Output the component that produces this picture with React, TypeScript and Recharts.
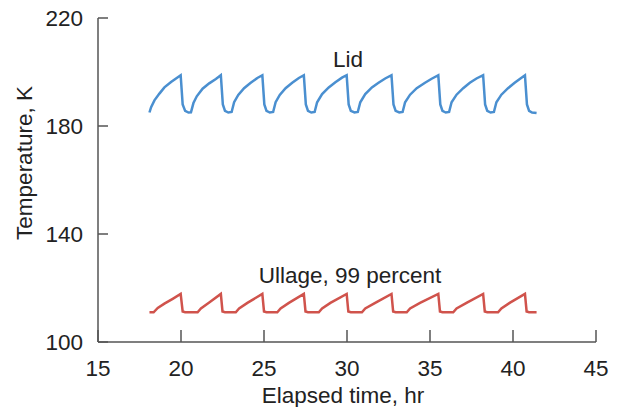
import { LineChart, Line, XAxis, YAxis } from 'recharts';

// Lid temperature (K) vs elapsed time (hr)
const lidTime = [
  18.1, 18.2, 18.4, 18.7, 19.0, 19.4, 19.7, 19.98, 20.1, 20.25, 20.45, 20.6,
  20.75, 20.95, 21.3, 21.7, 22.1, 22.4, 22.52, 22.65, 22.85, 23.05,
  23.2, 23.45, 23.8, 24.2, 24.6, 24.9, 25.02, 25.15, 25.35, 25.55,
  25.7, 25.95, 26.3, 26.7, 27.1, 27.4, 27.52, 27.65, 27.85, 28.05,
  28.2, 28.5, 28.9, 29.3, 29.7, 29.98, 30.1, 30.23, 30.45, 30.65,
  30.8, 31.1, 31.5, 31.9, 32.3, 32.68, 32.8, 32.93, 33.15, 33.35,
  33.5, 33.8, 34.2, 34.7, 35.1, 35.5, 35.62, 35.75, 35.95, 36.15,
  36.3, 36.6, 37.0, 37.4, 37.8, 38.2, 38.32, 38.45, 38.65, 38.85,
  39.0, 39.3, 39.7, 40.1, 40.45, 40.72, 40.84, 40.97, 41.15, 41.42,
];
const lidTemp = [
  185.0, 187.0, 189.5, 192.0, 194.3, 196.3, 197.6, 198.8, 188.0, 185.6, 185.0, 185.1,
  188.5, 191.0, 193.8, 195.8, 197.4, 198.8, 188.0, 185.6, 185.0, 185.2,
  188.8, 191.5, 194.0, 196.0, 197.8, 198.8, 188.0, 185.6, 185.0, 185.2,
  188.8, 191.5, 194.0, 196.0, 197.8, 198.8, 188.0, 185.6, 185.0, 185.2,
  188.8, 191.8, 194.3, 196.2, 197.9, 198.8, 188.0, 185.6, 185.0, 185.2,
  188.8, 191.8, 194.3, 196.0, 197.6, 198.8, 188.0, 185.6, 185.0, 185.2,
  188.8, 191.6, 194.0, 196.0, 197.5, 198.8, 188.0, 185.6, 185.0, 185.2,
  188.8, 191.6, 194.0, 196.0, 197.6, 198.8, 188.0, 185.6, 185.0, 185.2,
  188.8, 191.6, 194.0, 196.0, 197.6, 198.8, 188.0, 185.6, 185.0, 184.8,
];

// Ullage (99 percent fill) temperature
const ullageTime = [
  18.1, 18.35, 18.6, 19.0, 19.5, 19.98, 20.1, 20.25, 21.0, 21.2, 21.7, 22.4,
  22.5, 22.65, 23.3, 23.5, 24.0, 24.9, 25.0, 25.15, 25.8, 26.0, 26.5, 27.4,
  27.5, 27.65, 28.3, 28.5, 29.0, 29.98, 30.08, 30.23, 30.9, 31.1, 31.7, 32.68,
  32.78, 32.93, 33.6, 33.8, 34.4, 35.5, 35.6, 35.75, 36.4, 36.6, 37.2, 38.2,
  38.3, 38.45, 39.1, 39.3, 39.8, 40.72, 40.82, 40.97, 41.42,
];
const ullageTemp = [
  111.0, 111.0, 112.6, 114.2, 116.0, 117.8, 111.3, 111.0, 111.0, 112.4, 114.6, 117.8,
  111.3, 111.0, 111.0, 112.4, 114.5, 117.8, 111.3, 111.0, 111.0, 112.4, 114.5, 117.8,
  111.3, 111.0, 111.0, 112.4, 114.5, 117.8, 111.3, 111.0, 111.0, 112.4, 114.5, 117.8,
  111.3, 111.0, 111.0, 112.4, 114.5, 117.8, 111.3, 111.0, 111.0, 112.4, 114.5, 117.8,
  111.3, 111.0, 111.0, 112.4, 114.5, 117.8, 111.3, 111.0, 111.0,
];

const xTicks = [15, 20, 25, 30, 35, 40, 45];
const yTicks = [100, 140, 180, 220];

const lidData = lidTime.map((t, i) => ({ t, v: lidTemp[i] }));
const ullageData = ullageTime.map((t, i) => ({ t, v: ullageTemp[i] }));

const FONT = '"Liberation Sans", Arial, sans-serif';
const FS = 22.5;
const AXIS = '#555555';
const TEXT = '#222222';

export default function App() {
  return (
    <div style={{ position: 'absolute', left: 0, top: 0, width: 618, height: 407, background: '#fff', fontFamily: FONT }}>
      <LineChart width={618} height={407} margin={{ top: 18, right: 22, bottom: 20, left: 38 }}>
        <XAxis
          dataKey="t"
          type="number"
          domain={[15, 45]}
          ticks={xTicks}
          height={45}
          stroke={AXIS}
          strokeWidth={1.5}
          tickSize={-12}
          tickMargin={30}
          tick={{ fill: TEXT, fontSize: FS, fontFamily: FONT }}
        />
        <YAxis
          dataKey="v"
          type="number"
          domain={[100, 220]}
          ticks={yTicks}
          width={60}
          stroke={AXIS}
          strokeWidth={1.5}
          tickSize={-10}
          tickMargin={25}
          tick={{ fill: TEXT, fontSize: FS, fontFamily: FONT }}
        />
        <Line data={lidData} dataKey="v" type="linear" stroke="#4a8fd0" strokeWidth={2.5} dot={false} isAnimationActive={false} />
        <Line data={ullageData} dataKey="v" type="linear" stroke="#d0534c" strokeWidth={2.5} dot={false} isAnimationActive={false} />
        <text x={348} y={67} textAnchor="middle" fill={TEXT} fontSize={FS} fontFamily={FONT}>Lid</text>
        <text x={350} y={283} textAnchor="middle" fill={TEXT} fontSize={FS} fontFamily={FONT}>Ullage, 99 percent</text>
        <text x={343} y={403} textAnchor="middle" fill={TEXT} fontSize={FS} fontFamily={FONT}>Elapsed time, hr</text>
        <text x={32} y={163} textAnchor="middle" fill={TEXT} fontSize={FS} fontFamily={FONT} transform="rotate(-90 32 163)">Temperature, K</text>
      </LineChart>
    </div>
  );
}
